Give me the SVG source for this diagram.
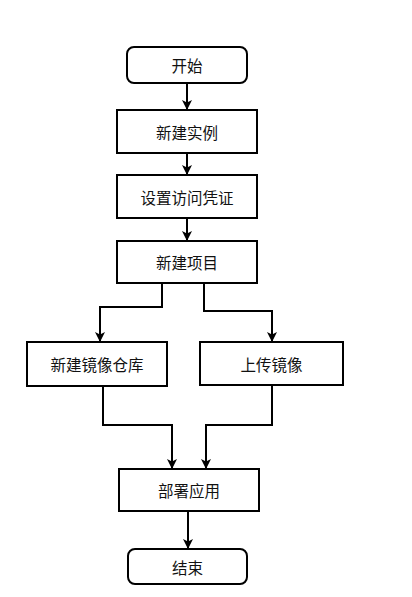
<svg xmlns="http://www.w3.org/2000/svg" width="412" height="597" viewBox="0 0 412 597">
<style>
.box{fill:#fff;stroke:#000;stroke-width:2}
.t{font-family:"Noto Sans CJK SC","Noto Sans",sans-serif;font-size:15.5px;fill:#111;text-anchor:middle;dominant-baseline:central}
.c{fill:none;stroke:#000;stroke-width:2}
</style>
<defs>
<marker id="ah" markerWidth="10" markerHeight="10" refX="9" refY="5" orient="auto" markerUnits="userSpaceOnUse">
<path d="M0,0 L10,5 L0,10 L2.5,5 Z" fill="#000"/>
</marker>
</defs>
<rect width="412" height="597" fill="#fff"/>
<g id="connectors">
<path class="c" d="M187,83 V109" marker-end="url(#ah)"/>
<path class="c" d="M187,153 V174" marker-end="url(#ah)"/>
<path class="c" d="M187,218 V240" marker-end="url(#ah)"/>
<path class="c" d="M162,283 V307 H100 V341" marker-end="url(#ah)"/>
<path class="c" d="M204,283 V311 H272 V341" marker-end="url(#ah)"/>
<path class="c" d="M103,386 V425 H172 V468" marker-end="url(#ah)"/>
<path class="c" d="M272,385 V425 H206 V468" marker-end="url(#ah)"/>
<path class="c" d="M188,511 V548" marker-end="url(#ah)"/>
</g>
<g id="start"><rect class="box" x="127" y="47" width="120" height="36" rx="7"/><text class="t" x="187" y="65">开始</text></g>
<g id="create-instance"><rect class="box" x="117" y="110" width="140" height="43"/><text class="t" x="187" y="131.5">新建实例</text></g>
<g id="credentials"><rect class="box" x="117" y="175" width="140" height="43"/><text class="t" x="187" y="196.5">设置访问凭证</text></g>
<g id="create-project"><rect class="box" x="117" y="241" width="140" height="42"/><text class="t" x="187" y="262">新建项目</text></g>
<g id="create-repo"><rect class="box" x="27" y="342" width="140" height="44"/><text class="t" x="97" y="364">新建镜像仓库</text></g>
<g id="upload-image"><rect class="box" x="200" y="342" width="143" height="43"/><text class="t" x="271.5" y="363.5">上传镜像</text></g>
<g id="deploy"><rect class="box" x="119" y="469" width="140" height="42"/><text class="t" x="189" y="490">部署应用</text></g>
<g id="end"><rect class="box" x="128" y="549" width="119" height="35" rx="7"/><text class="t" x="187.5" y="566.5">结束</text></g>
</svg>
